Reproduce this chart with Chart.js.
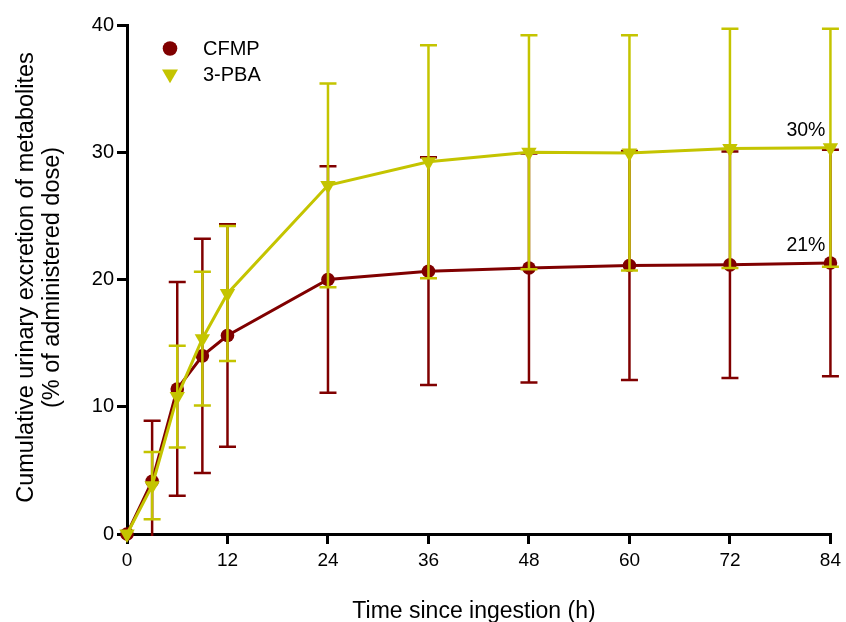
<!DOCTYPE html>
<html>
<head>
<meta charset="utf-8">
<script src="https://cdn.jsdelivr.net/npm/chart.js@4/dist/chart.umd.min.js"></script>
<style>
  html, body { margin: 0; padding: 0; background: #ffffff; }
  #wrap { width: 846px; height: 622px; position: relative; }
</style>
</head>
<body>
<div id="wrap"><canvas id="c" width="846" height="622"></canvas></div>
<script>
// Sampling times (h) and mean ± SD cumulative excretion (% of dose)
const hours    = [0, 3, 6, 9, 12, 24, 36, 48, 60, 72, 84];
const cfmpMean = [0, 4.15, 11.4, 14.0, 15.6, 20.0, 20.65, 20.9, 21.1, 21.15, 21.3];
const cfmpSD   = [0, 4.75, 8.4, 9.2, 8.75, 8.9, 8.95, 9.0, 9.0, 8.9, 8.9];
const pbaMean  = [0, 3.8, 10.8, 15.35, 18.9, 27.4, 29.25, 30.0, 29.95, 30.3, 30.35];
const pbaSD    = [0, 2.65, 4.0, 5.25, 5.3, 8.0, 9.15, 9.2, 9.25, 9.4, 9.35];
const xTicks   = [0, 12, 24, 36, 48, 60, 72, 84];
const yTicks   = [0, 10, 20, 30, 40];

const RED = '#800000';
const YELLOW = '#c4c400';
const FONT = 'Liberation Sans, Arial, sans-serif';

const toPoints = (xs, ys) => xs.map((x, i) => ({ x: x, y: ys[i] }));

// Vertical mean ± SD bars with caps, drawn just before each series
const errorBars = {
  id: 'errorBars',
  beforeDatasetDraw(chart, args) {
    const ds = chart.data.datasets[args.index];
    if (!ds.sd) return;
    const xs = chart.scales.x, ys = chart.scales.y, a = chart.chartArea;
    const ctx = chart.ctx;
    ctx.save();
    ctx.beginPath();
    ctx.rect(a.left - 20, a.top - 20, a.right - a.left + 40, a.bottom - a.top + 22);
    ctx.clip();
    ctx.strokeStyle = ds.borderColor;
    ctx.lineWidth = 2.5;
    ds.data.forEach((p, i) => {
      const s = ds.sd[i];
      if (!s) return;
      const px = xs.getPixelForValue(p.x);
      const top = ys.getPixelForValue(p.y + s);
      const bot = ys.getPixelForValue(p.y - s);
      ctx.beginPath();
      ctx.moveTo(px, top); ctx.lineTo(px, bot);
      ctx.moveTo(px - 8.5, top); ctx.lineTo(px + 8.5, top);
      ctx.moveTo(px - 8.5, bot); ctx.lineTo(px + 8.5, bot);
      ctx.stroke();
    });
    ctx.restore();
  }
};

// Axis titles, legend and end-of-curve percentages
const annotations = {
  id: 'annotations',
  afterDraw(chart) {
    const ctx = chart.ctx;
    const a = chart.chartArea;
    const midY = (a.top + a.bottom) / 2;
    ctx.save();
    ctx.fillStyle = '#000';
    ctx.textAlign = 'center';
    ctx.textBaseline = 'alphabetic';

    // y-axis title (two lines, rotated)
    ctx.font = '23.5px ' + FONT;
    ctx.save();
    ctx.translate(33, midY - 2);
    ctx.rotate(-Math.PI / 2);
    ctx.fillText('Cumulative urinary excretion of metabolites', 0, 0);
    ctx.restore();
    ctx.save();
    ctx.translate(59, midY - 2);
    ctx.rotate(-Math.PI / 2);
    ctx.fillText('(% of administered dose)', 0, 0);
    ctx.restore();

    // x-axis title
    ctx.font = '23px ' + FONT;
    ctx.fillText('Time since ingestion (h)', 474, 618);

    // legend
    ctx.font = '20px ' + FONT;
    ctx.textAlign = 'left';
    ctx.textBaseline = 'middle';
    const items = chart.data.datasets;
    items.forEach((ds, i) => {
      const cx = 170, cy = 48.5 + i * 25.5;
      ctx.fillStyle = ds.borderColor;
      ctx.beginPath();
      if (ds.pointStyle === 'triangle') {
        const r = 9.2;
        ctx.moveTo(cx, cy + r);
        ctx.lineTo(cx - r * Math.sin(Math.PI / 3), cy - r / 2);
        ctx.lineTo(cx + r * Math.sin(Math.PI / 3), cy - r / 2);
        ctx.closePath();
      } else {
        ctx.arc(cx, cy, 7.3, 0, Math.PI * 2);
      }
      ctx.fill();
      ctx.fillStyle = '#000';
      ctx.fillText(ds.label, 203, cy + 1);
    });

    // final cumulative percentage above the last point of each series
    ctx.font = '19.5px ' + FONT;
    ctx.textAlign = 'right';
    items.forEach((ds, i) => {
      const meta = chart.getDatasetMeta(i);
      const last = meta.data[meta.data.length - 1];
      const v = ds.data[ds.data.length - 1].y;
      ctx.fillText(Math.round(v) + '%', last.x - 5, last.y - 17);
    });
    ctx.restore();
  }
};

new Chart(document.getElementById('c'), {
  type: 'line',
  data: {
    datasets: [
      {
        label: 'CFMP',
        data: toPoints(hours, cfmpMean),
        sd: cfmpSD,
        borderColor: RED,
        backgroundColor: RED,
        pointBackgroundColor: RED,
        pointBorderColor: RED,
        borderWidth: 3,
        pointStyle: 'circle',
        pointRadius: 6.8,
        pointBorderWidth: 0,
        order: 1,
        clip: false,
        tension: 0
      },
      {
        label: '3-PBA',
        data: toPoints(hours, pbaMean),
        sd: pbaSD,
        borderColor: YELLOW,
        backgroundColor: YELLOW,
        pointBackgroundColor: YELLOW,
        pointBorderColor: YELLOW,
        borderWidth: 3,
        pointStyle: 'triangle',
        pointRotation: 180,
        pointRadius: 8.9,
        pointBorderWidth: 0,
        order: 0,
        clip: false,
        tension: 0
      }
    ]
  },
  options: {
    responsive: false,
    animation: false,
    devicePixelRatio: 1,
    layout: { padding: { left: 0, top: 25, right: 12, bottom: 0 } },
    plugins: { legend: { display: false }, tooltip: { enabled: false } },
    scales: {
      x: {
        type: 'linear',
        min: 0, max: 84,
        afterBuildTicks: s => { s.ticks = xTicks.map(v => ({ value: v })); },
        afterFit: s => { s.height = 88; },
        grid: { drawOnChartArea: false, drawTicks: true, tickLength: 10, color: '#000', lineWidth: 3 },
        border: { color: '#000', width: 3 },
        ticks: { color: '#000', font: { family: FONT, size: 19 }, padding: 5, maxRotation: 0, autoSkip: false }
      },
      y: {
        type: 'linear',
        min: 0, max: 40,
        afterBuildTicks: s => { s.ticks = yTicks.map(v => ({ value: v })); },
        afterFit: s => { s.width = 127; },
        grid: { drawOnChartArea: false, drawTicks: true, tickLength: 10, color: '#000', lineWidth: 3 },
        border: { color: '#000', width: 3 },
        ticks: { color: '#000', font: { family: FONT, size: 20 }, padding: 3, autoSkip: false }
      }
    }
  },
  plugins: [errorBars, annotations]
});
</script>
</body>
</html>
